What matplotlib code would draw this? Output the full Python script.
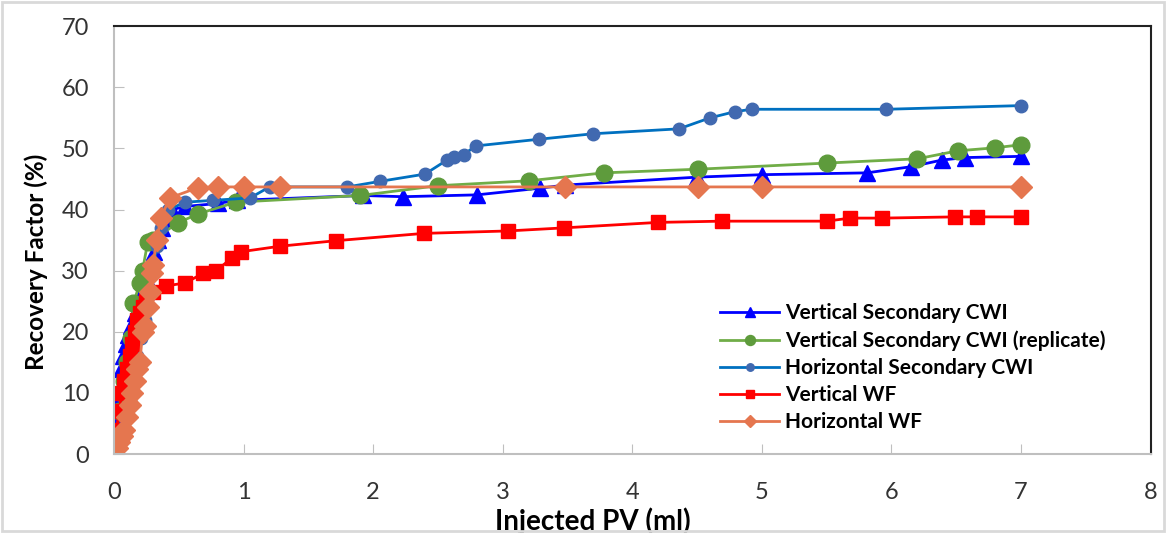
#Recovery factor vs injected PV

#Importing libraries
import numpy as np
import matplotlib
matplotlib.use("Agg")
import matplotlib.pyplot as plt
from matplotlib.patches import Rectangle

#Data
x_vcwi = [0, 0.01, 0.02, 0.03, 0.05, 0.07, 0.09, 0.11, 0.13, 0.16, 0.19, 0.22, 0.25, 0.28, 0.31, 0.34,
          0.37, 0.40, 0.45, 0.55, 0.8, 0.95, 1.92, 2.23, 2.8, 3.29, 3.48, 4.5, 5.0, 5.81, 6.15, 6.39, 6.57, 7.0]
y_vcwi = [0, 3, 6, 9, 14, 16, 18, 19.5, 21, 23, 25, 27, 29, 31, 33, 35,
          37, 38.5, 40, 40.5, 41, 41.5, 42.3, 42.1, 42.4, 43.5, 44, 45.3, 45.7, 46, 47, 48.1, 48.5, 48.7]

x_vrep = [0, 0.02, 0.04, 0.06, 0.08, 0.1, 0.13, 0.15, 0.2, 0.22, 0.26, 0.3, 0.49, 0.65, 0.94, 1.9,
          2.5, 3.2, 3.78, 4.51, 5.5, 6.2, 6.51, 6.8, 7.0]
y_vrep = [0, 3, 7, 10, 12, 15, 19, 24.7, 28, 30, 34.7, 35, 37.8, 39.3, 41.2, 42.3,
          43.9, 44.7, 46.0, 46.6, 47.6, 48.3, 49.6, 50.1, 50.6]

x_hcwi = [0, 0.03, 0.06, 0.09, 0.12, 0.15, 0.18, 0.21, 0.24, 0.27, 0.3, 0.33, 0.36, 0.42, 0.55, 0.76,
          1.05, 1.2, 1.8, 2.05, 2.4, 2.57, 2.62, 2.70, 2.79, 3.28, 3.70, 4.36, 4.60, 4.79, 4.92, 5.96, 7.0]
y_hcwi = [0, 2, 4, 6, 9, 12, 16, 19, 22, 26, 30, 34, 37, 40, 41.2, 41.5,
          41.9, 43.7, 43.7, 44.6, 45.8, 48.1, 48.6, 49.0, 50.4, 51.5, 52.4, 53.2, 55.0, 56.0, 56.4, 56.4, 57.0]

x_vwf = [0, 0.02, 0.04, 0.06, 0.08, 0.1, 0.12, 0.14, 0.16, 0.18, 0.2, 0.22, 0.25, 0.3, 0.4, 0.55,
         0.69, 0.79, 0.91, 0.98, 1.28, 1.71, 2.39, 3.04, 3.47, 4.2, 4.69, 5.5, 5.68, 5.93, 6.49, 6.66, 7.0]
y_vwf = [0, 4, 7, 10, 12, 14, 16, 18, 20, 22, 23, 24, 25, 26.5, 27.5, 28,
         29.6, 30, 32.1, 33.1, 34, 34.9, 36.1, 36.5, 37, 37.9, 38.1, 38.1, 38.6, 38.6, 38.8, 38.8, 38.8]

x_hwf = [0, 0.02, 0.04, 0.06, 0.08, 0.1, 0.12, 0.14, 0.16, 0.18, 0.2, 0.22, 0.24, 0.26, 0.28, 0.29,
         0.3, 0.33, 0.36, 0.43, 0.65, 0.8, 1.0, 1.28, 3.48, 4.51, 5.0, 7.0]
y_hwf = [0, 1, 2, 3, 4, 6, 8, 10, 12, 14, 15, 20, 21, 24, 26.5, 29.6,
         31, 35, 38.6, 41.9, 43.6, 43.7, 43.7, 43.7, 43.7, 43.7, 43.7, 43.7]

labels = ['Vertical Secondary CWI', 'Vertical Secondary CWI (replicate)', 'Horizontal Secondary CWI',
          'Vertical WF', 'Horizontal WF']
x_ticks = [0, 1, 2, 3, 4, 5, 6, 7, 8]
y_ticks = [0, 10, 20, 30, 40, 50, 60, 70]

plt.rcParams['font.family'] = ['Lato', 'DejaVu Sans']

fig = plt.figure(figsize=(11.66, 5.33), dpi=100)
ax = fig.add_axes([0.0978, 0.148, 0.889, 0.803])

#Series
ax.plot(x_vcwi, y_vcwi, color='#0000FF', lw=2, marker='^', ms=11, label=labels[0])
ax.plot(x_vrep, y_vrep, color='#70AD47', lw=2, marker='o', ms=12, mfc='#5E9B3C', mec='#5E9B3C', label=labels[1])
ax.plot(x_hcwi, y_hcwi, color='#0070C0', lw=2, marker='o', ms=9, mfc='#4169B0', mec='#4169B0', label=labels[2])
ax.plot(x_vwf, y_vwf, color='#FF0000', lw=2, marker='s', ms=10, label=labels[3])
ax.plot(x_hwf, y_hwf, color='#E5764F', lw=2, marker='D', ms=11, label=labels[4])

#Axes
ax.set_xlim(0, 8)
ax.set_ylim(0, 70)
ax.set_xticks(x_ticks)
ax.set_yticks(y_ticks)
ax.tick_params(axis='x', direction='in', length=7, color='#BFBFBF', pad=20, labelsize=17, labelcolor='#333333')
ax.tick_params(axis='y', direction='in', length=7, color='#BFBFBF', pad=18, labelsize=17, labelcolor='#333333')
ax.spines['left'].set_color('#BFBFBF')
ax.spines['bottom'].set_color('#BFBFBF')
ax.spines['top'].set_color('#222222')
ax.spines['right'].set_color('#222222')
for s in ax.spines.values():
    s.set_linewidth(1.5)

ax.set_xlabel('Injected PV (ml)', fontsize=20, fontweight='bold', labelpad=0)
ax.xaxis.set_label_coords(0.462, -0.124)
ax.set_ylabel('Recovery Factor (%)', fontsize=17.5, fontweight='bold')
ax.yaxis.set_label_coords(-0.064, 0.449)

leg = ax.legend(loc='upper left', bbox_to_anchor=(0.585, 0.352), frameon=False, fontsize=15,
                handlelength=2.8, handletextpad=0.3, labelspacing=0.34, borderpad=0, borderaxespad=0,
                markerscale=0.6)
for t in leg.get_texts():
    t.set_fontweight('bold')

#Outer chart border
fig.patches.append(Rectangle((0.002, 0.004), 0.996, 0.992, transform=fig.transFigure, fill=False,
                             edgecolor='#D9D9D9', lw=2))

fig.savefig('out.png', dpi=100)
